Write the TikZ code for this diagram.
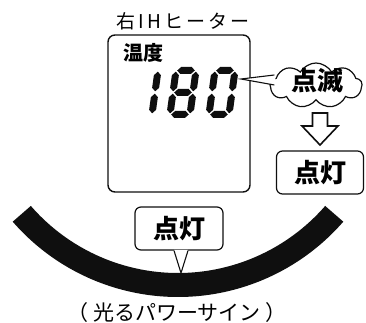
\documentclass[tikz,border=0pt]{standalone}
\usepackage{fontspec}
\usepackage{tikz}
\usetikzlibrary{shapes.symbols, positioning, calc}
\newfontfamily\jpfont{Noto Sans CJK JP}
\newfontfamily\jptitlefont[LetterSpace=16]{Noto Sans CJK JP}
\definecolor{mydark}{RGB}{15,15,15}
\tikzset{
  panel/.style={rectangle, draw=mydark, line width=1.4pt, rounded corners=7pt,
    minimum width=142pt, minimum height=157pt, inner sep=0pt},
  tagbox/.style={rectangle, draw=mydark, fill=white, line width=1.2pt,
    rounded corners=6pt, minimum width=87pt, minimum height=43pt, inner sep=0pt,
    font=\jpfont\bfseries\fontsize{26}{26}\selectfont},
  bigjp/.style={font=\jpfont\bfseries\fontsize{26}{26}\selectfont, inner sep=0pt},
  blinkcloud/.style={cloud, cloud puffs=9, cloud puff arc=120, aspect=2,
    draw=mydark, fill=white, line width=1.2pt, minimum width=92pt,
    minimum height=45pt, inner sep=0pt},
  pointer/.style={draw=mydark, line width=1.1pt, line join=miter},
  hollowarrow/.style={draw=mydark, fill=white, line width=1.6pt, line join=miter},
  segpart/.style={fill=mydark}
}
% seven segment pieces (upright, digit box 26 x 51)
\newcommand{\hseg}[3]{\fill[segpart] (#1,#3) -- (#1+3.5,#3+3.5) -- (#2-3.5,#3+3.5)
  -- (#2,#3) -- (#2-3.5,#3-3.5) -- (#1+3.5,#3-3.5) -- cycle;}
\newcommand{\vseg}[3]{\fill[segpart] (#1,#2) -- (#1+3.5,#2+3.5) -- (#1+3.5,#3-3.5)
  -- (#1,#3) -- (#1-3.5,#3-3.5) -- (#1-3.5,#2+3.5) -- cycle;}
\newcommand{\lcdsega}{\hseg{4.7}{22.3}{47.5}}
\newcommand{\lcdsegg}{\hseg{4.7}{22.3}{25.5}}
\newcommand{\lcdsegd}{\hseg{4.7}{22.3}{3.5}}
\newcommand{\lcdsegf}{\vseg{3.5}{26.7}{46.3}}
\newcommand{\lcdsegb}{\vseg{23.5}{26.7}{46.3}}
\newcommand{\lcdsege}{\vseg{3.5}{4.7}{24.3}}
\newcommand{\lcdsegc}{\vseg{23.5}{4.7}{24.3}}

\begin{document}
\begin{tikzpicture}[x=1pt, y=1pt]
  \useasboundingbox (0,0) rectangle (366,323);

  % power sign band
  \coordinate (arccenter) at (178,245);
  \fill[mydark] ($(arccenter)+(221:219pt)$) arc[start angle=221, end angle=319, radius=219pt]
    -- ($(arccenter)+(319:195pt)$) arc[start angle=319, end angle=221, radius=195pt] -- cycle;

  % display
  \node [font=\jptitlefont\fontsize{19}{19}\selectfont, anchor=base, inner sep=0pt] (title) at (183,294) {右IHヒーター};
  \node [panel] (display) at (179,209.5) {};
  \node [font=\jpfont\bfseries\fontsize{20}{20}\selectfont, inner sep=0pt] (templabel) at (143,270.5) {温度};

  % 180
  \foreach \xo/\segs in {128/{b,c}, 166/{a,b,c,d,e,f,g}, 205/{a,b,c,d,e,f}} {
    \begin{scope}[shift={(\xo,205)}, xslant=0.137]
      \foreach \s in \segs {\csname lcdseg\s\endcsname}
    \end{scope}
  }

  % blinking cloud
  \node [blinkcloud] (blink) at (316,237.5) {};
  \node [bigjp] (blinktext) at (317,242.5) {点滅};
  \coordinate (blinktip) at (241,244);
  \fill[white] ($(blink.west)+(6,10.5)$) -- (blinktip) -- ($(blink.west)+(6,0.5)$) -- cycle;
  \draw[pointer] ($(blink.west)+(5,10.5)$) -- (blinktip) -- ($(blink.west)+(5,0.5)$);

  \draw[hollowarrow] (312.5,210) -- (327.5,210) -- (327.5,197) -- (338,197)
    -- (320,178) -- (302,197) -- (312.5,197) -- cycle;

  \node [tagbox] (lit) at (320,150.5) {点灯};

  % callout on the band
  \node [tagbox, minimum width=88pt] (signlit) at (179,94.5) {点灯};
  \coordinate (signtip) at (181,50);
  \fill[white] ($(signlit.south)+(-5,0.8)$) -- (signtip) -- ($(signlit.south)+(9,0.8)$) -- cycle;
  \draw[pointer] ($(signlit.south)+(-5,0)$) -- (signtip) -- ($(signlit.south)+(9,0)$);

  \node [font=\jpfont\fontsize{21}{21}\selectfont, anchor=base, inner sep=0pt] (powersign) at (177,2) {（\hspace{5pt}光るパワーサイン\hspace{5pt}）};
\end{tikzpicture}
\end{document}
